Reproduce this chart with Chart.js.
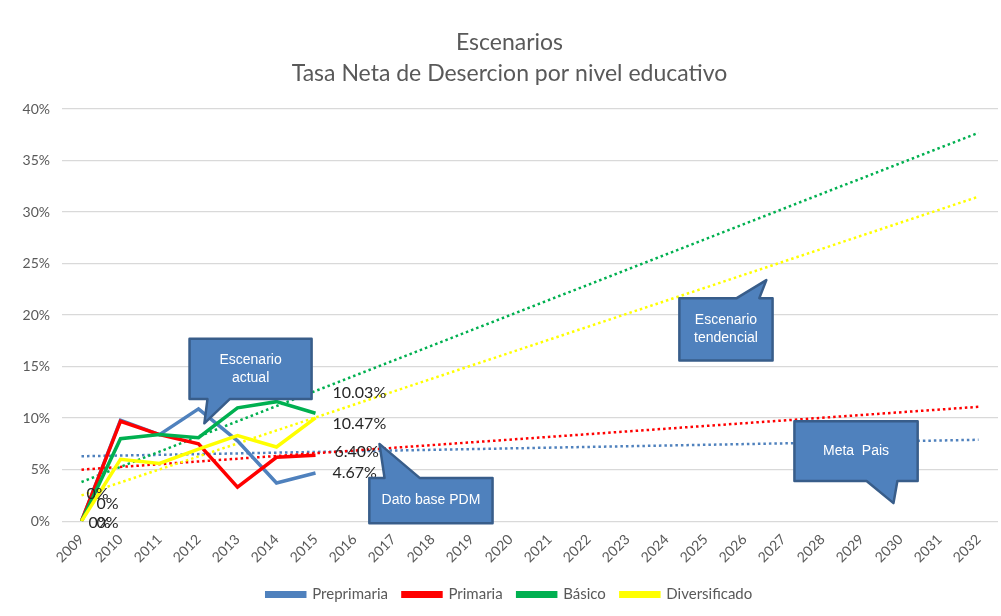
<!DOCTYPE html>
<html>
<head>
<meta charset="utf-8">
<script src="https://cdn.jsdelivr.net/npm/chart.js@4.4.1/dist/chart.umd.min.js"></script>
<style>
  body { margin: 0; background: #fff; }
  #wrap { width: 1001px; height: 616px; }
</style>
</head>
<body>
<div id="wrap"><canvas id="chart"></canvas></div>
<script>
const years = ['2009','2010','2011','2012','2013','2014','2015','2016','2017','2018','2019','2020',
  '2021','2022','2023','2024','2025','2026','2027','2028','2029','2030','2031','2032'];

// observed rates (%), 2009-2015
const preprimaria = [0, 9.8, 8.4, 10.9, 7.8, 3.7, 4.67];
const primaria = [0, 9.7, 8.4, 7.5, 3.3, 6.2, 6.40];
const basico = [0, 8.0, 8.4, 8.1, 11.0, 11.6, 10.47];
const diversificado = [0, 6.0, 5.6, 7.0, 8.3, 7.2, 10.03];

// linear trend lines, value at 2009 and at 2032
const trendPreprimaria = [6.3, 7.9];
const trendPrimaria = [5.0, 11.1];
const trendBasico = [3.8, 37.7];
const trendDiversificado = [2.5, 31.5];

const FONT = 'Lato, "Liberation Sans", sans-serif';
const GREY = '#595959';

function trend(vals) {
  return [{ x: years[0], y: vals[0] }, { x: years[years.length - 1], y: vals[1] }];
}

// label offsets (px) from the point: first point and last point
const series = [
  { label: 'Preprimaria', data: preprimaria, color: '#4f81bd', trend: trendPreprimaria, first: [15, 2], last: [17, 0] },
  { label: 'Primaria', data: primaria, color: '#ff0000', trend: trendPrimaria, first: [5, -27], last: [19, -3] },
  { label: 'Básico', data: basico, color: '#00b050', trend: trendBasico, first: [15, -17], last: [17, 11] },
  { label: 'Diversificado', data: diversificado, color: '#ffff00', trend: trendDiversificado, first: [7, 2], last: [17, -25] }
];

const datasets = [];
series.forEach((s, i) => {
  datasets.push({
    label: s.label, data: s.data, borderColor: s.color, backgroundColor: s.color,
    borderWidth: 3.5, pointRadius: 0, tension: 0, order: 4 - i,
    labelFirst: s.first, labelLast: s.last
  });
});
series.forEach((s, i) => {
  datasets.push({
    label: 'trend ' + s.label, data: trend(s.trend), borderColor: s.color,
    borderWidth: 2.5, borderDash: [2.5, 3], pointRadius: 0, spanGaps: true, order: 8 - i,
    isTrend: true
  });
});

// speech-bubble callouts, in data coordinates (x = year index, y = %)
const callouts = [
  { text: ['Escenario', 'actual'], x0: 2.77, x1: 5.9, y0: 17.7, y1: 11.85, edge: 'bottom', base: [3.23, 3.8], tip: [3.15, 9.5] },
  { text: ['Dato base PDM'], x0: 7.38, x1: 10.54, y0: 4.2, y1: -0.2, edge: 'top', base: [7.77, 8.67], tip: [7.64, 7.5] },
  { text: ['Escenario', 'tendencial'], x0: 15.33, x1: 17.72, y0: 21.65, y1: 15.6, edge: 'top', base: [16.8, 17.38], tip: [17.56, 23.4] },
  { text: ['Meta  Pais'], x0: 18.28, x1: 21.44, y0: 9.7, y1: 3.9, edge: 'bottom', base: [20.13, 20.92], tip: [20.82, 1.75] }
];

const extras = {
  id: 'extras',
  afterDatasetsDraw(chart) {
    const ctx = chart.ctx;
    const xs = chart.scales.x, ys = chart.scales.y;
    // data labels
    ctx.save();
    ctx.font = '16px ' + FONT;
    ctx.fillStyle = '#262626';
    ctx.textAlign = 'left';
    ctx.textBaseline = 'middle';
    chart.data.datasets.forEach((ds, i) => {
      if (ds.isTrend) return;
      const pts = chart.getDatasetMeta(i).data;
      const f = pts[0], l = pts[pts.length - 1];
      ctx.fillText(ds.data[0] + '%', f.x + ds.labelFirst[0], f.y + ds.labelFirst[1]);
      ctx.fillText(ds.data[ds.data.length - 1].toFixed(2) + '%', l.x + ds.labelLast[0], l.y + ds.labelLast[1]);
    });
    ctx.restore();
    // callouts
    callouts.forEach(c => {
      const X = v => xs.getPixelForValue(v), Y = v => ys.getPixelForValue(v);
      const x0 = X(c.x0), x1 = X(c.x1), y0 = Y(c.y0), y1 = Y(c.y1);
      const a = X(c.base[0]), b = X(c.base[1]);
      const tx = X(c.tip[0]), ty = Y(c.tip[1]);
      ctx.save();
      ctx.beginPath();
      if (c.edge === 'top') {
        ctx.moveTo(x0, y0); ctx.lineTo(a, y0); ctx.lineTo(tx, ty); ctx.lineTo(b, y0);
        ctx.lineTo(x1, y0); ctx.lineTo(x1, y1); ctx.lineTo(x0, y1);
      } else {
        ctx.moveTo(x0, y0); ctx.lineTo(x1, y0); ctx.lineTo(x1, y1); ctx.lineTo(b, y1);
        ctx.lineTo(tx, ty); ctx.lineTo(a, y1); ctx.lineTo(x0, y1);
      }
      ctx.closePath();
      ctx.fillStyle = '#4f81bd';
      ctx.fill();
      ctx.lineWidth = 2.5;
      ctx.lineJoin = 'round';
      ctx.strokeStyle = '#385d8a';
      ctx.stroke();
      ctx.fillStyle = '#ffffff';
      ctx.font = '14px "Liberation Sans", Arial, sans-serif';
      ctx.textAlign = 'center';
      ctx.textBaseline = 'middle';
      const cx = (x0 + x1) / 2, cy = (y0 + y1) / 2, lh = 18;
      c.text.forEach((t, k) => {
        ctx.fillText(t, cx, cy + (k - (c.text.length - 1) / 2) * lh);
      });
      ctx.restore();
    });
  }
};

new Chart(document.getElementById('chart'), {
  type: 'line',
  data: { labels: years, datasets: datasets },
  options: {
    responsive: true,
    maintainAspectRatio: false,
    animation: false,
    layout: { padding: { left: 21, right: 3, top: 27, bottom: 4 } },
    plugins: {
      title: {
        display: true,
        text: ['Escenarios', 'Tasa Neta de Desercion por nivel educativo'],
        color: GREY,
        font: { family: FONT, size: 23, weight: 'normal', lineHeight: 1.35 },
        padding: { top: 0, bottom: 20 }
      },
      legend: {
        position: 'bottom',
        labels: {
          filter: item => !item.text.startsWith('trend'),
          sort: (a, b) => a.datasetIndex - b.datasetIndex,
          boxWidth: 38, boxHeight: 3.5,
          color: GREY,
          font: { family: FONT, size: 15 },
          padding: 15
        }
      },
      tooltip: { enabled: false }
    },
    scales: {
      x: {
        offset: true,
        afterFit: s => { s.height += 4; },
        grid: { display: false },
        border: { display: false },
        ticks: { color: GREY, font: { family: FONT, size: 14 }, minRotation: 45, maxRotation: 45, autoSkip: false, padding: 2 }
      },
      y: {
        min: 0, max: 40,
        afterFit: s => { s.width = 41; },
        grid: { color: '#d9d9d9', lineWidth: 1.3, drawTicks: false },
        border: { display: false },
        ticks: { stepSize: 5, color: GREY, font: { family: FONT, size: 14 }, padding: 12, callback: v => v + '%' }
      }
    }
  },
  plugins: [extras]
});
</script>
</body>
</html>
